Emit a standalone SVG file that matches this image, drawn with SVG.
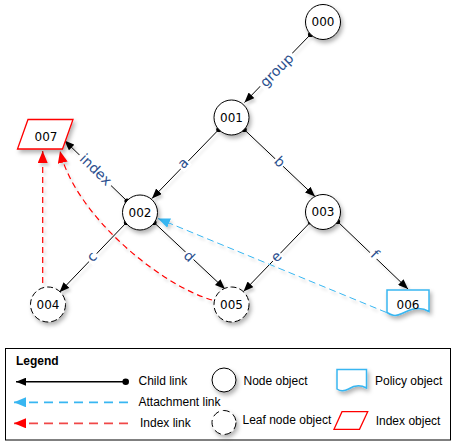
<svg xmlns="http://www.w3.org/2000/svg" width="455" height="446" viewBox="0 0 455 446">
<style>
.node{fill:#fff;stroke:#000;stroke-width:1}
.leaf{fill:#fff;stroke:#000;stroke-width:1;stroke-dasharray:6 3}
.nl{font-family:"DejaVu Sans",sans-serif;font-size:12px;fill:#000;text-anchor:middle}
.el{font-family:"DejaVu Sans",sans-serif;font-size:14px;fill:#2B4F8E;text-anchor:middle;dominant-baseline:central}
.lbg{fill:#fff}
.child{stroke:#000;stroke-width:1;fill:none;marker-end:url(#ab)}
.att{stroke:#38B6F1;stroke-width:1;fill:none;stroke-dasharray:7 4;marker-end:url(#au)}
.idx{stroke:#FF0000;stroke-width:1.2;fill:none;stroke-dasharray:6 4;marker-end:url(#ar)}
.dot{fill:#000}
.lt{font-family:"Liberation Sans",Arial,sans-serif;font-size:12px;fill:#000}
</style>
<defs>
<filter id="sh" x="-30%" y="-30%" width="170%" height="170%">
<feDropShadow dx="2" dy="3" stdDeviation="2" flood-color="#000" flood-opacity="0.3"/>
</filter>
<filter id="shl" x="-10%" y="-10%" width="130%" height="130%">
<feDropShadow dx="2" dy="3" stdDeviation="1.5" flood-color="#000" flood-opacity="0.18"/>
</filter>
<marker id="ab" markerUnits="userSpaceOnUse" markerWidth="10" markerHeight="8" refX="10" refY="4" orient="auto">
<path d="M0,0 L10,4 L0,8 Z" fill="#000"/>
</marker>
<marker id="au" markerUnits="userSpaceOnUse" markerWidth="12" markerHeight="10" refX="12" refY="5" orient="auto">
<path d="M0,0 L12,5 L0,10 Z" fill="#38B6F1"/>
</marker>
<marker id="ar" markerUnits="userSpaceOnUse" markerWidth="12" markerHeight="10" refX="12" refY="5" orient="auto">
<path d="M0,0 L12,5 L0,10 Z" fill="#FF0000"/>
</marker>
</defs>
<rect width="455" height="446" fill="#fff"/>

<g id="connectors">
<g filter="url(#shl)">
<line class="child" x1="310.6" y1="34.4" x2="244.5" y2="102.5"/>
<line class="child" x1="218.8" y1="129.5" x2="152" y2="198.5"/>
<line class="child" x1="244.2" y1="129.5" x2="315" y2="196.5"/>
<line class="child" x1="127" y1="201" x2="64.5" y2="140.5"/>
<line class="child" x1="126.5" y1="222.5" x2="59.5" y2="292.3"/>
<line class="child" x1="154" y1="222.5" x2="225" y2="289"/>
<line class="child" x1="310.5" y1="222" x2="243.5" y2="291.5"/>
<line class="child" x1="337.5" y1="221.5" x2="408" y2="289"/>
<line class="att" x1="386.5" y1="312.5" x2="158" y2="218.5"/>
<line class="idx" x1="42.7" y1="283" x2="42.7" y2="151"/>
<path class="idx" d="M212,300 C160,285 75,215 60,151"/>
</g>
<g id="dots">
<circle class="dot" cx="310.6" cy="34.4" r="2.6"/>
<circle class="dot" cx="218.8" cy="129.5" r="2.6"/>
<circle class="dot" cx="244.2" cy="129.5" r="2.6"/>
<circle class="dot" cx="127" cy="201" r="2.6"/>
<circle class="dot" cx="126.5" cy="222.5" r="2.6"/>
<circle class="dot" cx="154" cy="222.5" r="2.6"/>
<circle class="dot" cx="310.5" cy="222" r="2.6"/>
<circle class="dot" cx="337.5" cy="221.5" r="2.6"/>
</g>
<g id="labels">
<g transform="translate(276.5,70) rotate(-45)"><rect class="lbg" x="-23" y="-8" width="46" height="16"/><text class="el" x="0" y="0">group</text></g>
<g transform="translate(182.7,163) rotate(-45)"><rect class="lbg" x="-5.5" y="-7.5" width="11" height="15"/><text class="el" x="0" y="0">a</text></g>
<g transform="translate(280,161.7) rotate(45)"><rect class="lbg" x="-5.5" y="-7.5" width="11" height="15"/><text class="el" x="0" y="0">b</text></g>
<g transform="translate(96,169.5) rotate(44)"><rect class="lbg" x="-22" y="-8" width="44" height="16"/><text class="el" x="0" y="0">index</text></g>
<g transform="translate(91.7,256.5) rotate(-45)"><rect class="lbg" x="-5.5" y="-7.5" width="11" height="15"/><text class="el" x="0" y="0">c</text></g>
<g transform="translate(189.3,256) rotate(45)"><rect class="lbg" x="-5.5" y="-7.5" width="11" height="15"/><text class="el" x="0" y="0">d</text></g>
<g transform="translate(276,256.5) rotate(-45)"><rect class="lbg" x="-5.5" y="-7.5" width="11" height="15"/><text class="el" x="0" y="0">e</text></g>
<g transform="translate(375,254) rotate(45)"><rect class="lbg" x="-4.5" y="-7.5" width="9" height="15"/><text class="el" x="0" y="0">f</text></g>
</g>
</g>

<g id="n000"><circle class="node" filter="url(#sh)" cx="323" cy="22" r="17.5"/><text class="nl" x="323" y="26.4">000</text></g>
<g id="n001"><circle class="node" filter="url(#sh)" cx="231.5" cy="117.5" r="17.5"/><text class="nl" x="231.5" y="121.9">001</text></g>
<g id="n002"><circle class="node" filter="url(#sh)" cx="140" cy="212.5" r="17.5"/><text class="nl" x="140" y="216.9">002</text></g>
<g id="n003"><circle class="node" filter="url(#sh)" cx="323" cy="212" r="17.5"/><text class="nl" x="323" y="216.4">003</text></g>
<g id="n004"><circle class="leaf" filter="url(#sh)" cx="48" cy="304.5" r="17.5"/><text class="nl" x="48" y="308.9">004</text></g>
<g id="n005"><circle class="leaf" filter="url(#sh)" cx="231.5" cy="304.5" r="17.5"/><text class="nl" x="231.5" y="308.9">005</text></g>
<g id="n006"><path filter="url(#sh)" d="M387,290 H429 V311.5 C420,306 411,309 402,313.5 C395,317 391,315 387,312.5 Z" fill="#fff" stroke="#38B6F1" stroke-width="1.5"/><text class="nl" x="408" y="309">006</text></g>
<g id="n007"><path filter="url(#sh)" d="M28,119.5 H73 L62.5,149 H17.5 Z" fill="#fff" stroke="#FF0000" stroke-width="1.3"/><text class="nl" x="46" y="140.5">007</text></g>

<g id="legend">
<rect x="5.5" y="348.5" width="445" height="91.5" fill="#fff" stroke="#000" stroke-width="1"/>
<text class="lt" x="16" y="365" font-weight="bold">Legend</text>
<line x1="16" y1="381.7" x2="125.7" y2="381.7" stroke="#000" stroke-width="1.5" marker-end="url(#ab)" transform="rotate(180 70.85 381.7)"/>
<circle cx="125.7" cy="381.7" r="3.3" fill="#000"/>
<line x1="14" y1="402.3" x2="128" y2="402.3" stroke="#38B6F1" stroke-width="1.8" stroke-dasharray="9 6" marker-end="url(#au)" transform="rotate(180 71 402.3)"/>
<line x1="14" y1="423.3" x2="128" y2="423.3" stroke="#F04848" stroke-width="1.8" stroke-dasharray="9 6" marker-end="url(#ar)" transform="rotate(180 71 423.3)"/>
<text class="lt" x="138.5" y="385">Child link</text>
<text class="lt" x="138.5" y="405.5">Attachment link</text>
<text class="lt" x="140" y="426.5">Index link</text>
<circle class="node" filter="url(#sh)" cx="224" cy="380" r="12"/>
<text class="lt" x="243.5" y="385">Node object</text>
<circle class="leaf" filter="url(#sh)" cx="224" cy="422.5" r="12" style="stroke-dasharray:7 4"/>
<text class="lt" x="242.5" y="424">Leaf node object</text>
<path filter="url(#sh)" d="M337,369.5 H366.5 V388 C360,384.5 354,385.5 348.5,389 C343,392 340,391 337,389 Z" fill="#fff" stroke="#38B6F1" stroke-width="1.5"/>
<text class="lt" x="375" y="385">Policy object</text>
<path d="M342,411.7 H367.7 L359.5,429.3 H334 Z" fill="#fff" stroke="#FF0000" stroke-width="1.3"/>
<text class="lt" x="375.7" y="425">Index object</text>
</g>
</svg>
